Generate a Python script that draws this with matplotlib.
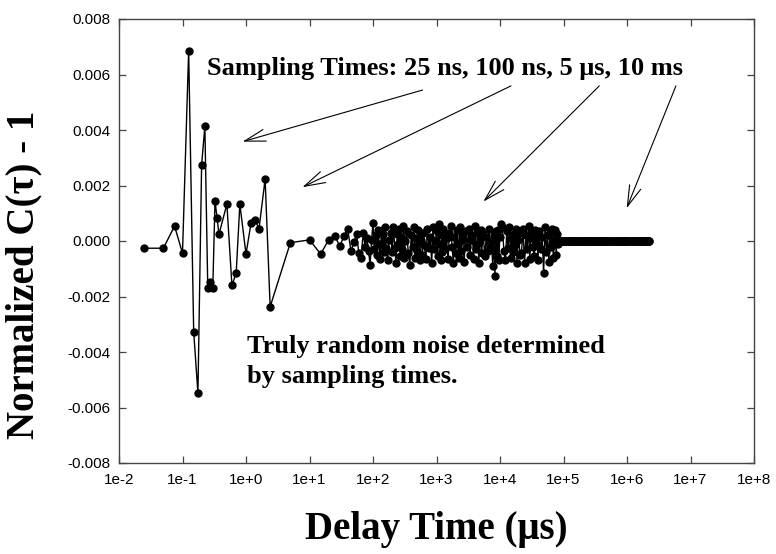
import matplotlib
matplotlib.use('Agg')
import matplotlib.pyplot as plt
import numpy as np

# delay time (us) / normalized C(tau)-1
# 25 ns, 100 ns ... early points
sparse_t = [0.025, 0.05, 0.075, 0.1, 0.125, 0.15, 0.175, 0.2, 0.225, 0.25,
            0.275, 0.3, 0.325, 0.35, 0.375, 0.5, 0.6, 0.7, 0.8, 1.0,
            1.2, 1.4, 1.6, 2.0, 2.4, 5, 10, 15, 20]
sparse_g = [-0.00026, -0.00026, 0.00054, -0.00044, 0.00685, -0.00327, -0.00549, 0.00274, 0.00414, -0.00168,
            -0.00147, -0.00168, 0.00144, 0.00084, 0.00024, 0.00133, -0.00159, -0.00117, 0.00133, -0.00047,
            0.00064, 0.00076, 0.00043, 0.00223, -0.00237, -0.00006, 0.00004, -0.00047, 0.00004]

# 5 us sampling region (multi-tau channels)
dense_t = [25, 30, 35, 40, 45, 50, 55, 60, 65, 70, 75, 80, 85, 90,
           95, 100, 105, 110, 115, 120, 125, 130, 135, 140, 145, 150, 155, 160,
           170, 180, 190, 200, 210, 220, 230, 240, 250, 260, 270, 280, 290, 300, 310, 320,
           340, 360, 380, 400, 420, 440, 460, 480, 500, 520, 540, 560, 580, 600, 620, 640,
           680, 720, 760, 800, 840, 880, 920, 960, 1000, 1040, 1080, 1120, 1160, 1200, 1240, 1280,
           1360, 1440, 1520, 1600, 1680, 1760, 1840, 1920, 2000, 2080, 2160, 2240, 2320, 2400, 2480, 2560,
           2720, 2880, 3040, 3200, 3360, 3520, 3680, 3840, 4000, 4160, 4320, 4480, 4640, 4800, 4960, 5120,
           5440, 5760, 6080, 6400, 6720, 7040, 7360, 7680, 8000, 8320, 8640, 8960, 9280, 9600, 9920, 10240,
           10880, 11520, 12160, 12800, 13440, 14080, 14720, 15360, 16000, 16640, 17280, 17920, 18560, 19200, 19840, 20480,
           21760, 23040, 24320, 25600, 26880, 28160, 29440, 30720, 32000, 33280, 34560, 35840, 37120, 38400, 39680, 40960,
           43520, 46080, 48640, 51200, 53760, 56320, 58880, 61440, 64000, 66560, 69120, 71680, 74240, 76800, 79360, 81920]
# in units of 1e-4
dense_g = [1.8, -1.8, 1.8, 4.2, -3.6, -0.5, 2.5, -4.5, -6.0, 3.0, -2.0, 1.0, -3.5, -8.6,
           0.5, 6.4, -3.0, 2.0, -5.0, 4.0, -1.0, -6.5, 3.5, -1.5, 2.5, -4.0, 5.0, -2.5,
           -7.0, 0.5, 3.0, -4.0, 5.0, -2.5, -8.0, 2.5, -1.0, 4.5, -5.5, 1.5, -3.0, 5.5, -6.0, 0.0,
           3.5, -4.5, -8.6, 2.0, -2.0, 5.0, -6.0, 1.0, -3.5, 4.0, -7.0, 0.5, 2.5, -5.0, 3.0, -1.5,
           -6.5, 4.5, -2.5, 1.5, -8.0, 5.0, -3.0, 0.0, 3.5, -5.5, 6.0, -1.0, -7.0, 2.0, -4.0, 4.5,
           -3.0, 1.0, -6.5, 3.0, 5.5, -2.0, -8.0, 1.5, -4.5, 4.0, -1.0, -6.0, 5.0, -3.5, 0.5, 2.5,
           -7.5, 3.5, -2.0, 4.5, -5.0, 0.5, 2.0, -6.5, 5.5, -3.0, -1.0, 3.0, -8.0, 1.0, 4.0, -4.5,
           2.5, -5.5, 1.5, -3.5, 4.5, -2.0, 0.0, -9.0, 2.0, -12.6, 3.5, -5.5, 4.0, -7.0, 1.5, 6.0,
           5.0, -3.5, -7.0, 3.5, -2.5, 5.0, -6.0, 1.0, -4.0, 2.5, -1.5, 4.5, -8.0, 0.5, 3.0, -5.0,
           -4.5, 4.5, -8.0, 2.0, -3.0, 5.5, -6.5, 1.0, 3.5, -2.0, -5.5, 4.0, -1.0, 2.5, -7.0, 3.5,
           -3.0, 1.5, -11.6, 5.0, -4.0, 2.0, -7.5, 3.0, -2.0, 4.5, -6.0, 0.5, 4.0, -5.0, 2.5, -1.0]

# 10 ms sampling region, flat at zero
flat_t = [85000, 87500, 90000, 92500, 95000, 97500, 100000, 102500, 105000, 107500,
          110000, 112500, 115000, 117500, 120000, 122500, 125000, 127500, 130000, 132500,
          135000, 137500, 140000, 142500, 145000, 147500, 150000, 152500, 155000, 157500, 160000,
          165000, 170000, 175000, 180000, 185000, 190000, 195000, 200000, 205000, 210000,
          215000, 220000, 225000, 230000, 235000, 240000, 245000, 250000, 255000, 260000,
          265000, 270000, 275000, 280000, 285000, 290000, 295000, 300000,
          310000, 320000, 330000, 340000, 350000, 360000, 370000, 380000, 390000, 400000,
          410000, 420000, 430000, 440000, 450000, 460000, 470000, 480000, 490000, 500000,
          520000, 540000, 560000, 580000, 600000, 620000, 640000, 660000, 680000, 700000,
          720000, 740000, 760000, 780000, 800000, 820000, 840000, 860000, 880000, 900000,
          920000, 940000, 960000, 980000, 1000000,
          1040000, 1080000, 1120000, 1160000, 1200000, 1240000, 1280000, 1320000, 1360000, 1400000,
          1440000, 1480000, 1520000, 1560000, 1600000, 1640000, 1680000, 1720000, 1760000, 1800000,
          1840000, 1880000, 1920000, 1960000, 2000000, 2040000, 2080000, 2120000, 2160000, 2200000, 2240000]
# in units of 1e-4
flat_g = [0.1, -0.1, 0.05, -0.05, 0.1, 0.0, -0.1, 0.05, 0.0, -0.05,
          0.1, -0.1, 0.0, 0.05, -0.05, 0.0, 0.1, -0.05, 0.0, 0.05,
          -0.1, 0.0, 0.05, -0.05, 0.0, 0.1, -0.05, 0.0, 0.05, -0.1, 0.0,
          0.05, -0.05, 0.0, 0.1, -0.05, 0.0, 0.0, 0.05, -0.05, 0.0,
          0.05, 0.0, -0.05, 0.0, 0.05, 0.0, -0.05, 0.0, 0.0, 0.05,
          0.0, -0.05, 0.0, 0.0, 0.0, 0.05, 0.0, -0.05,
          0.0, 0.05, 0.0, 0.0, -0.05, 0.0, 0.05, 0.0, 0.0, -0.05,
          0.0, 0.0, 0.05, 0.0, 0.0, -0.05, 0.0, 0.0, 0.05, 0.0,
          0.0, -0.05, 0.0, 0.0, 0.05, 0.0, 0.0, 0.0, -0.05, 0.0,
          0.0, 0.05, 0.0, 0.0, 0.0, -0.05, 0.0, 0.0, 0.0, 0.05,
          0.0, 0.0, 0.0, -0.05, 0.0,
          0.0, 0.0, 0.05, 0.0, 0.0, 0.0, -0.05, 0.0, 0.0, 0.0,
          0.0, 0.05, 0.0, 0.0, 0.0, 0.0, -0.05, 0.0, 0.0, 0.0,
          0.0, 0.0, 0.0, 0.05, 0.0, 0.0, 0.0, 0.0, 0.0, 0.0, 0.0]

xticks = [1e-2, 1e-1, 1e0, 1e1, 1e2, 1e3, 1e4, 1e5, 1e6, 1e7, 1e8]
xticklabels = ['1e-2', '1e-1', '1e+0', '1e+1', '1e+2', '1e+3', '1e+4', '1e+5', '1e+6', '1e+7', '1e+8']
yticks = [-0.008, -0.006, -0.004, -0.002, 0.0, 0.002, 0.004, 0.006, 0.008]

t = np.concatenate([sparse_t, dense_t, flat_t])
g = np.concatenate([sparse_g, np.array(dense_g) * 1e-4, np.array(flat_g) * 1e-4])

serif = 'Liberation Serif'
sans = 'Liberation Sans'

fig = plt.figure(figsize=(7.76, 5.54), dpi=100)
ax = fig.add_axes([119/776, 1 - 463/554, 635/776, 444/554])

ax.plot(t, g, '-', color='black', lw=1.0, marker='o', ms=5, mfc='black', mec='black')

ax.set_xscale('log')
ax.set_xlim(1e-2, 1e8)
ax.set_ylim(-0.008, 0.008)
ax.set_xticks(xticks)
ax.set_xticklabels(xticklabels, fontfamily=sans, fontsize=11)
ax.xaxis.set_minor_locator(matplotlib.ticker.NullLocator())
ax.set_yticks(yticks)
ax.set_yticklabels(['%.3f' % v for v in yticks], fontfamily=sans, fontsize=11)
ax.tick_params(direction='in', length=5, width=0.9, color='#444444', top=True, right=True)
ax.tick_params(axis='x', pad=7)
ax.tick_params(axis='y', pad=6)
for s in ax.spines.values():
    s.set_color('#444444')
    s.set_linewidth(1.0)

ax.set_xlabel('Delay Time (\u03bcs)', fontfamily=serif, fontweight='bold', fontsize=28)
ax.xaxis.set_label_coords(0.5, -0.108)
ax.set_ylabel('Normalized C(\u03c4) - 1', fontfamily=serif, fontweight='bold', fontsize=28)
ax.yaxis.set_label_coords(-0.121, 0.423)

# annotations
ax.text(0.243, 0.00598, 'Sampling Times: 25 ns, 100 ns, 5 \u03bcs, 10 ms',
        fontfamily=serif, fontweight='bold', fontsize=19, va='baseline', ha='left')
ax.text(1.04, -0.00404, 'Truly random noise determined',
        fontfamily=serif, fontweight='bold', fontsize=19, va='baseline', ha='left')
ax.text(1.04, -0.00512, 'by sampling times.',
        fontfamily=serif, fontweight='bold', fontsize=19, va='baseline', ha='left')

arrows = [((603, 0.00544), (0.885, 0.00358)),
          ((14900, 0.00559), (7.74, 0.00194)),
          ((366000, 0.00559), (5470, 0.00142)),
          ((5.9e6, 0.00559), (9.87e5, 0.00118))]
for tail, head in arrows:
    ax.annotate('', xy=head, xytext=tail,
                arrowprops=dict(arrowstyle='->,head_length=1.5,head_width=0.43',
                                mutation_scale=10, lw=0.8, color='black',
                                shrinkA=0, shrinkB=0))

fig.savefig('out.png', dpi=100)
